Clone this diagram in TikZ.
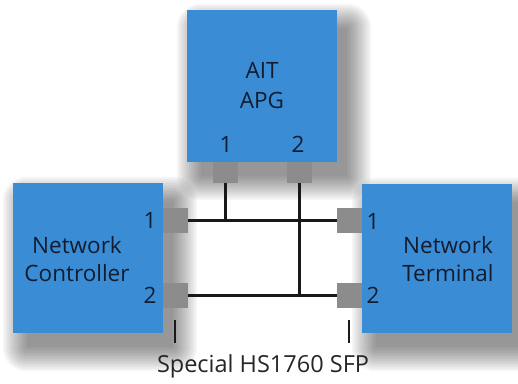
\documentclass[tikz,border=0pt]{standalone}
\usepackage{fontspec}
\newfontfamily\diagfont{Open Sans}
\usepackage{tikz}
\usetikzlibrary{positioning,calc}
\definecolor{boxblue}{RGB}{58,141,213}
\definecolor{boxtext}{RGB}{18,28,48}
\definecolor{portgray}{RGB}{140,140,140}
\pgfdeclarelayer{background}
\pgfsetlayers{background,main}

\begin{document}
\begin{tikzpicture}[x=1pt,y=-1pt,
  unit/.style={fill=boxblue, minimum width=150pt, minimum height=150pt, inner sep=0pt,
    align=center, text=boxtext, font=\diagfont\fontsize{22.5}{30}\selectfont},
  port/.style={fill=portgray, minimum width=25pt, minimum height=25pt, inner sep=0pt},
  num/.style={text=boxtext, font=\diagfont\fontsize{22.5}{28}\selectfont},
  wire/.style={line width=2.3pt, black!90}]

\useasboundingbox (0,0) rectangle (518,383);

% three units
\node[unit, minimum height=152pt] (apg) at (262,86) {AIT\\APG};
\node[unit] (ctrl) at (88,258) {};
\node[unit, minimum height=149pt] (term) at (437,258.5) {};
\node[num, align=center] (ctrltext) at (77,259) {Network\\Controller};
\node[num, align=center] (termtext) at (448,259) {Network\\Terminal};

% SFP ports
\node[port, minimum height=21pt] (apg1) at (225.5,172.5) {};
\node[port, minimum height=21pt] (apg2) at (299.5,172.5) {};
\node[port] (ctrl1) at (175.5,220.5) {};
\node[port] (ctrl2) at (175.5,295.5) {};
\node[port] (term1) at (349.5,220.5) {};
\node[port] (term2) at (349.5,295.5) {};

% port numbers
\node[num] at (226,144) {1};
\node[num] at (298,144) {2};
\node[num] at (150,220) {1};
\node[num] at (150,295) {2};
\node[num] at (373,221) {1};
\node[num] at (373,295) {2};

% blurred shadows
\begin{pgfonlayer}{background}
  \foreach \b in {apg,ctrl,term}{
    \foreach \i in {0,2,...,24}{
      \fill[black, opacity=0.04, rounded corners=\i pt]
        ($(\b.north west)+(14-\i,18-\i)$) rectangle ($(\b.south east)+(10+\i,14+\i)$);
    }
  }
\end{pgfonlayer}

% cabling
\draw[wire] (ctrl1.east) -- (term1.west);
\draw[wire] (ctrl2.east) -- (term2.west);
\draw[wire] (apg1.south) -- (apg1.south |- ctrl1.east);
\draw[wire] (apg2.south) -- (apg2.south |- ctrl2.east);

% SFP markers
\coordinate (tickL) at (175,343);
\coordinate (tickR) at (349,343);
\draw[wire, line width=2.8pt] (tickL) -- ++(0,-23);
\draw[wire, line width=2.8pt] (tickR) -- ++(0,-23);
\node[font=\diagfont\fontsize{23.5}{28}\selectfont, text=black!85] (sfp) at (263,366) {Special HS1760 SFP};

\end{tikzpicture}
\end{document}
